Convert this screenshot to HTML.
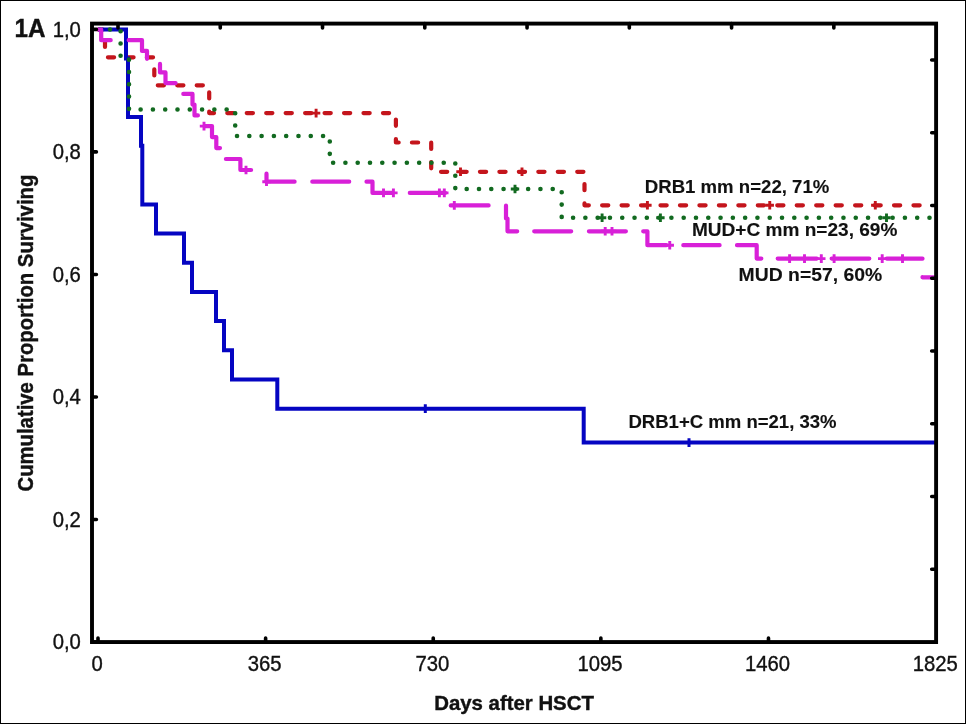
<!DOCTYPE html>
<html lang="en">
<head>
<meta charset="utf-8">
<title>Figure 1A - Cumulative Proportion Surviving</title>
<style>
html,body{margin:0;padding:0;background:#fff;}
body{width:966px;height:725px;overflow:hidden;}
svg{display:block;}
</style>
</head>
<body>
<svg width="966" height="725" viewBox="0 0 966 725" role="img" aria-label="Kaplan-Meier survival curves">
<rect x="0" y="0" width="966" height="725" fill="#fff"/>
<path d="M0.5 0V724M0 0.5H966M965.5 0V724M0 723.5H966" stroke="#000" stroke-width="1" fill="none" shape-rendering="crispEdges"/>
<g fill="none" stroke-linejoin="round">
<path d="M98 29.5H105V57.3H154.3V85.3H209.2V113.1H395.9V142.5H431.2V171.8H584.5V205.3H927" stroke="#c4151c" stroke-width="4.2" stroke-linecap="round" stroke-dasharray="6.2 13.26" stroke-dashoffset="1.19"/>
<path d="M316.1 108.8V117.4M311.9 113.1H320.3M460.5 167.5V176.1M456.3 171.8H464.7M522 167.5V176.1M517.8 171.8H526.2M647.4 201V209.6M643.2 205.3H651.6M769.75 201V209.6M765.55 205.3H773.95M875.3 201V209.6M871.1 205.3H879.5" stroke="#c4151c" stroke-width="2.9" fill="none"/>
<path d="M98 29.5H126V58.6H128V117H141V145.8H142.3V204.5H156V233.6H184V262.8H192V292H216V321H224V350.3H232V379.5H277.3V408.7H583.7V442.6H936" stroke="#0505c2" stroke-width="4" stroke-linejoin="miter"/>
<path d="M425.3 404.3V413.1M425.3 408.7H425.3M689 438.2V447M689 442.6H689" stroke="#0505c2" stroke-width="3" fill="none"/>
<path d="M98 29.5H101.2V40.2H142V50.9H147V61.6H160V72.4H165.5V83.1H179V93.9H192.5V104.6H194.5V115.4H200.5V126.1H212V137.1H216.3V148.1H223V159H240.4V170H266.5V181.7H372.5V192.9H448V205.4H506V218.5H507.5V231.3H647.4V245.2H756.7V258.6H922.5V277.3H936" stroke="#d820d8" stroke-width="4.2" stroke-linecap="round" stroke-dasharray="0 3.2 20.2 18 36.9 18.1 34.8 18.5 36.1 17.5 37.3 16.8 36.2 19.1 36.1 17.7 36.9 17.3 36.5 18 35.3 18.1 37.9 17.7 36.8 17 37 17.7 37 17.3 37 17 36.3 17.4 37.7 16.4 39.1 14.9 37.6 17.4 35.9 18.3 13.8 1000"/>
<path d="M204 121.8V130.4M199.8 126.1H208.2M246 165.7V174.3M241.8 170H250.2M266.5 177.4V186M262.3 181.7H270.7M383.5 188.6V197.2M379.3 192.9H387.7M393.4 188.6V197.2M389.2 192.9H397.6M439.4 188.6V197.2M435.2 192.9H443.6M444.3 188.6V197.2M440.1 192.9H448.5M454.3 201.1V209.7M450.1 205.4H458.5M605.2 227V235.6M601 231.3H609.4M612 227V235.6M607.8 231.3H616.2M669.75 240.9V249.5M665.55 245.2H673.95M789.6 254.3V262.9M785.4 258.6H793.8M804.5 254.3V262.9M800.3 258.6H808.7M821.3 254.3V262.9M817.1 258.6H825.5M834.1 254.3V262.9M829.9 258.6H838.3M882.2 254.3V262.9M878 258.6H886.4M902.5 254.3V262.9M898.3 258.6H906.7" stroke="#d820d8" stroke-width="2.9" fill="none"/>
<path d="M98 29.5H120.6V56.05H129V109.5H235.2V136H329.8V162.8H455.3V189H561.7V217.8H936" stroke="#126a20" stroke-width="4.6" stroke-linecap="round" stroke-dasharray="0.01 12.28" stroke-dashoffset="0.28"/>
<path d="M515 184.7V193.3M510.8 189H519.2M602.1 213.5V222.1M597.9 217.8H606.3M660.4 213.5V222.1M656.2 217.8H664.6M886.5 213.5V222.1M882.3 217.8H890.7" stroke="#126a20" stroke-width="2.9" fill="none"/>
</g>
<path d="M98 642.05V637.95M265.62 642.05V637.95M433.24 642.05V637.95M600.86 642.05V637.95M768.48 642.05V637.95M92 642H96.4M92 519.48H96.4M92 396.96H96.4M92 274.44H96.4M92 151.92H96.4M92 29.4H96.4M118 23.6V28M220.26 23.6V28M322.52 23.6V28M424.79 23.6V28M527.05 23.6V28M629.31 23.6V28M731.58 23.6V28M833.84 23.6V28M936.1 60H931.7M936.1 132.76H931.7M936.1 205.51H931.7M936.1 278.27H931.7M936.1 351.02H931.7M936.1 423.78H931.7M936.1 496.54H931.7M936.1 569.29H931.7" stroke="#000" stroke-width="3.6" stroke-linecap="round" fill="none"/>
<rect x="92" y="23.6" width="844.1" height="618.45" fill="none" stroke="#000" stroke-width="3.9"/>
<g font-family="'Liberation Sans', sans-serif" fill="#111">
<text transform="translate(80.9 649.3) scale(1 1.07)" font-size="20.3" text-anchor="end" stroke="#111" stroke-width="0.35">0,0</text>
<text transform="translate(80.9 526.78) scale(1 1.07)" font-size="20.3" text-anchor="end" stroke="#111" stroke-width="0.35">0,2</text>
<text transform="translate(80.9 404.26) scale(1 1.07)" font-size="20.3" text-anchor="end" stroke="#111" stroke-width="0.35">0,4</text>
<text transform="translate(80.9 281.74) scale(1 1.07)" font-size="20.3" text-anchor="end" stroke="#111" stroke-width="0.35">0,6</text>
<text transform="translate(80.9 159.22) scale(1 1.07)" font-size="20.3" text-anchor="end" stroke="#111" stroke-width="0.35">0,8</text>
<text transform="translate(80.9 36.7) scale(1 1.07)" font-size="20.3" text-anchor="end" stroke="#111" stroke-width="0.35">1,0</text>
<text transform="translate(97.1 671.2) scale(1 1.07)" font-size="20.3" text-anchor="middle" stroke="#111" stroke-width="0.35">0</text>
<text transform="translate(264.72 671.2) scale(1 1.07)" font-size="20.3" text-anchor="middle" stroke="#111" stroke-width="0.35">365</text>
<text transform="translate(432.34 671.2) scale(1 1.07)" font-size="20.3" text-anchor="middle" stroke="#111" stroke-width="0.35">730</text>
<text transform="translate(599.96 671.2) scale(1 1.07)" font-size="20.3" text-anchor="middle" stroke="#111" stroke-width="0.35">1095</text>
<text transform="translate(767.58 671.2) scale(1 1.07)" font-size="20.3" text-anchor="middle" stroke="#111" stroke-width="0.35">1460</text>
<text transform="translate(935.2 671.2) scale(1 1.07)" font-size="20.3" text-anchor="middle" stroke="#111" stroke-width="0.35">1825</text>
<text transform="translate(514 709.5) scale(1 1.03)" font-size="20.4" text-anchor="middle" font-weight="bold" stroke="#111" stroke-width="0.4">Days after HSCT</text>
<text transform="translate(33 333.1) rotate(-90) scale(1 1.07)" font-size="20.3" text-anchor="middle" font-weight="bold" stroke="#111" stroke-width="0.4">Cumulative Proportion Surviving</text>
<text transform="translate(14.4 36.7) scale(0.955 1)" font-size="25.4" font-weight="bold" stroke="#111" stroke-width="0.4">1A</text>
<text transform="translate(644.77 192.9) scale(1.0339 1)" font-size="18" font-weight="bold" stroke="#111" stroke-width="0.12">DRB1 mm n=22, 71%</text>
<text transform="translate(691.94 235.7) scale(1.0594 1)" font-size="18" font-weight="bold" stroke="#111" stroke-width="0.12">MUD+C mm n=23, 69%</text>
<text transform="translate(738.62 281) scale(1.0758 1)" font-size="18" font-weight="bold" stroke="#111" stroke-width="0.12">MUD n=57, 60%</text>
<text transform="translate(628.47 428.1) scale(1.03 1)" font-size="18" font-weight="bold" stroke="#111" stroke-width="0.12">DRB1+C mm n=21, 33%</text>
</g>
</svg>
</body>
</html>
